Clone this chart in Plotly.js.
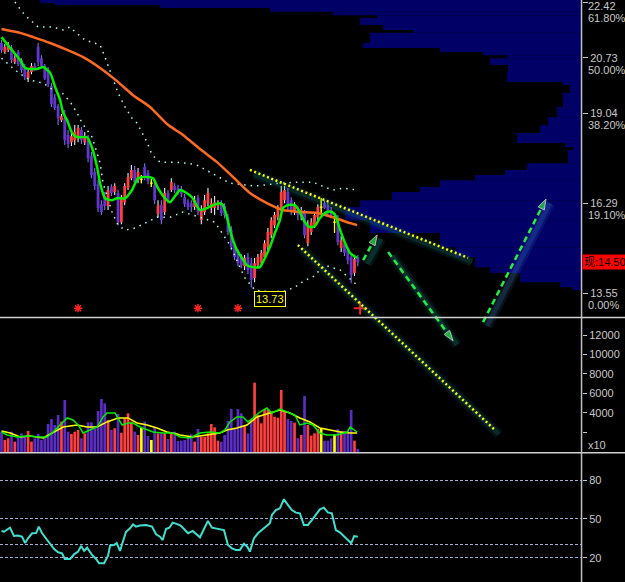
<!DOCTYPE html>
<html><head><meta charset="utf-8">
<script src="https://cdn.plot.ly/plotly-3.0.1.min.js"></script>
<style>html,body{margin:0;padding:0;background:#000;overflow:hidden}#chart{width:625px;height:582px}</style>
</head><body><div id="chart"></div>
<script>
// ---------- DATA ----------
const openP = [21.18,20.91,20.97,21.03,20.60,20.91,20.66,20.45,20.11,20.30,
20.48,21.06,20.72,20.48,20.36,19.87,19.53,19.26,18.83,18.89,
18.38,18.16,18.22,18.28,18.53,18.16,18.28,17.73,17.25,16.88,
16.27,16.52,16.21,16.79,16.64,16.61,15.72,16.33,16.76,17.06,
17.31,17.00,17.03,17.40,17.22,16.91,16.85,15.97,16.24,16.03,
16.61,16.70,16.82,16.76,16.73,16.48,16.33,16.30,16.18,16.45,
15.78,16.03,16.30,16.15,16.15,16.21,16.30,16.21,15.87,15.48,
15.02,14.81,14.66,14.38,14.66,14.47,14.02,14.41,14.50,14.66,
14.96,15.33,15.63,15.87,16.15,16.39,16.64,16.39,16.03,16.09,
15.91,16.00,15.08,15.42,15.63,15.87,16.18,16.30,16.24,16.09,
15.72,15.84,14.93,15.08,14.87,14.66,14.17,14.66];
const highP = [21.27,21.15,21.21,21.12,20.81,20.97,20.72,20.54,20.42,20.57,
20.57,21.18,20.81,20.54,20.45,19.96,19.63,19.32,19.02,19.14,
18.53,18.44,18.68,18.68,18.62,18.47,18.38,17.86,17.37,17.00,
16.39,16.64,16.82,16.88,16.91,16.70,16.55,16.91,17.22,17.46,
17.43,17.37,17.16,17.52,17.31,17.03,16.94,16.39,16.39,16.76,
16.70,17.06,16.91,16.85,16.82,16.58,16.42,16.39,16.52,16.55,
16.24,16.55,16.76,16.45,16.52,16.39,16.39,16.30,15.97,15.60,
15.11,14.90,14.75,14.72,14.78,14.63,14.63,14.75,14.87,15.17,
15.54,15.87,16.03,16.24,16.82,16.82,16.76,16.48,16.33,16.21,
16.18,16.09,15.78,15.84,16.03,16.27,16.45,16.39,16.33,16.18,
16.00,15.94,15.30,15.17,14.96,14.78,14.69,14.72];
const lowP = [20.88,20.85,20.91,20.57,20.54,20.48,20.27,20.05,19.99,20.23,
20.33,20.48,20.42,20.05,19.84,19.23,19.14,18.68,18.77,18.07,
17.98,18.04,18.07,18.16,18.10,18.07,17.55,17.06,16.70,16.03,
15.94,16.09,16.09,16.52,16.55,15.63,15.66,16.24,16.70,17.00,
16.85,16.91,16.91,17.00,16.88,16.79,16.27,15.87,15.66,15.94,
16.30,16.64,16.61,16.55,16.48,16.18,16.09,16.03,16.09,15.94,
15.66,15.94,16.21,16.00,15.94,16.09,15.91,15.84,15.33,14.87,
14.56,14.38,14.32,14.26,14.14,13.73,13.89,14.32,14.41,14.56,
14.87,15.23,15.54,15.78,16.06,16.30,16.09,15.94,15.94,15.78,
15.78,15.23,14.99,15.33,15.54,15.78,15.94,16.12,15.94,15.84,
15.39,15.02,14.81,14.69,14.44,13.86,14.08,14.38];
const closeP = [20.97,21.06,21.12,20.66,20.72,20.54,20.36,20.14,20.30,20.48,
20.39,20.60,20.48,20.11,19.93,19.32,19.20,18.89,18.95,18.22,
18.10,18.34,18.47,18.59,18.22,18.34,17.67,17.16,16.82,16.15,
16.03,16.21,16.70,16.61,16.82,15.72,16.45,16.82,17.10,17.31,
16.94,17.25,17.03,17.13,16.97,16.91,16.39,16.24,15.78,16.61,
16.39,16.94,16.70,16.64,16.58,16.27,16.18,16.18,16.39,16.03,
16.09,16.39,16.61,16.30,16.33,16.30,16.00,15.94,15.42,14.96,
14.66,14.47,14.41,14.63,14.26,13.96,14.47,14.66,14.78,15.08,
15.42,15.78,15.94,16.15,16.64,16.70,16.24,16.03,16.24,15.94,
16.09,15.33,15.63,15.72,15.94,16.18,16.18,16.15,16.03,15.94,
15.72,15.11,15.17,14.78,14.56,14.10,14.60,14.50];
const volume = [2080,1230,1400,2080,1060,1640,1910,1640,2150,1060,
1400,1850,1230,1570,2870,3380,2770,3790,3110,5330,
2080,1850,2080,2260,1400,1910,3040,3040,2430,4200,
5440,4990,3280,2260,2430,3900,1980,3450,3970,3110,
2080,1740,2500,3110,1640,1230,2600,1910,1910,1910,
1330,1910,2080,1130,1160,1230,1570,1810,1060,2360,
1570,1570,1910,2870,2530,1160,1060,1740,3180,4410,
2430,4410,3970,2700,1910,3280,7110,3790,2940,4370,
4370,4140,3620,3520,6360,4140,3380,3180,3010,1400,
1740,5740,2770,1675,1910,2360,2430,1160,1160,1400,
1810,2360,2150,2150,2150,4310,1160,310];

const maShortX = [0,2.6,5.6,7.1,10.7,12.5,14.6,16.1,17.6,18.5,19.7,21.2,22.7,25.7,27.2,28.7,29.6,31.1,33.2,34.7,37.1,39.2,41,43.7,45.5,47,49.1,50.6,53.6,55.1,57.2,59.6,61.7,63.5,65.6,66.5,67.7,69.2,70.7,72.2,73.7,75.5,77.6,79.1,80.6,82.1,83.6,84.5,86,88.1,89.6,91.1,92.6,94.1,95.6,97.7,99.2,100.2,101.7,103.2,104.7,106.8];
const maShortY = [21.36,21.03,20.66,20.42,20.39,20.45,20.27,19.84,19.44,19.05,18.83,18.44,18.31,18.31,17.98,17.40,16.91,16.45,16.39,16.45,16.45,16.70,17.06,17.10,17.06,16.76,16.45,16.33,16.70,16.64,16.48,16.09,16.15,16.24,16.30,16.24,15.87,15.27,14.87,14.63,14.41,14.35,14.35,14.63,14.96,15.39,15.78,16.15,16.24,16.24,16.03,15.72,15.57,15.60,15.84,16.03,16.03,15.94,15.48,15.08,14.78,14.63];
const maLongX = [0,5.6,9.5,14.6,19.7,24.5,29.6,34.7,39.5,44.6,49.7,54.5,59.6,64.7,69.5,74.6,79.7,84.5,89.6,94.7,99.6,104.7,106.8];
const maLongY = [21.61,21.49,21.36,21.18,20.97,20.75,20.42,20.02,19.59,19.23,18.71,18.38,17.95,17.55,17.10,16.61,16.30,16.09,16.03,16.00,15.87,15.69,15.63];
const bollUpX = [4.05,6.2,8.0,9.5,11,15.2,18.5,20.6,22.1,25.1,28.1,29.6,31.1,33.2,35,37.1,39.2,40.7,42.2,43.7,45.2,47.6,51.5,55.7,58.7,62.6,68.6,76.1,83.6,89.6,93.5,97.1,99.5,102.6,106.8];
const bollUpY = [22.43,22.13,21.94,21.79,21.67,21.67,21.58,21.67,21.52,21.27,21.18,21.12,20.75,20.14,19.66,19.23,18.89,18.74,18.44,18.16,17.77,17.55,17.55,17.52,17.46,17.25,16.91,16.82,16.91,16.94,16.94,16.79,16.70,16.76,16.70];
const bollLoX = [0,1.65,4.05,6.2,8.6,12.5,15.5,18.2,20.6,22.7,24.2,25.7,27.2,28.7,29.6,30.5,31.7,33.2,35,37.1,40.1,43.7,46.7,50.6,54.5,59.6,64.1,68.6,73.1,76.1,80.6,85.1,88.1,91.1,93.5,97.1,101.7,106.8];
const bollLoY = [20.72,20.57,20.36,20.20,20.05,19.96,19.75,19.66,19.39,19.05,18.74,18.53,18.31,17.83,17.52,16.91,16.49,16.03,15.63,15.48,15.54,15.72,15.87,15.87,16.03,15.87,15.72,15.02,14.02,13.65,13.59,13.62,13.74,13.95,14.05,14.41,14.26,13.80];

const volMaAX = [0,2.6,5.6,8.6,12.5,14.6,18.5,22.7,25.7,28.7,31.7,35,38,40.7,43.7,46.7,49.7,52.7,53.6,57.5,61.7,65.6,67.7,70.7,73.7,76.7,80.6,83.6,86.6,89.6,92.6,95.6,98.7,101.7,104.7,106.8];
const volMaAY = [2150,1950,1540,1640,1440,1850,2560,2770,2560,2560,3080,3490,3490,2970,2770,2460,2050,1850,1740,1540,1740,1950,2260,2460,2770,3590,4000,4310,4000,3490,3080,2460,2260,2050,1950,1950];
const volMaBX = [0,1.7,4.7,7.7,11.6,13.7,15.5,18.2,19.7,21.5,23,24.5,26.6,28.7,30.5,31.7,34.1,36.2,38,39.5,41.6,43.7,45.5,48.5,51.5,53.6,56.6,59.6,62.6,65.6,67.1,68.6,70.7,72.5,74,75.5,77.6,79.7,81.2,83.6,85.7,88.1,89.6,91.7,93.5,95.6,97.7,100.8,103.8,104.7,106.8];
const volMaBY = [2050,1740,1540,1640,1540,1540,2050,2970,3490,3280,2770,1950,2260,2560,3590,4000,4000,2770,2970,2970,2560,2260,2050,1950,1950,1540,1440,1950,2050,1950,2260,3080,3590,3590,3080,3490,4100,4510,4000,4410,4100,3790,2770,2970,2770,1950,1740,1740,2050,2560,2050];

const rsiX = [0,0.75,1.95,2.55,3.75,4.95,6.15,7.1,7.95,9.2,10.4,11.2,12.2,13.4,14.6,15.8,17,18.2,19,20.6,21.8,23,23.9,24.8,25.7,27.2,28.4,29.3,30.8,32,32.6,33.8,34.6,35.6,36.2,37.4,38.6,39.5,40.4,41.6,43.4,45.2,46.4,47.6,48.4,49.4,50.4,51.4,52.6,53.8,54.8,56,57.4,58.4,59.6,60.8,62,63.2,64.4,65.6,66.8,68,69.2,70.4,71.6,72.8,73.8,74.6,75.8,77,78.2,79.4,80.6,81.2,82.4,83.6,84.8,86,87.2,88.4,89.6,90.8,92,93.2,94.4,95.6,96.8,98,99.2,100.4,101.6,102.9,104,105,105.9,107];
const rsiY = [40.8,40.2,42.3,43.3,36.9,37.2,36.4,31.5,35.1,39.0,39.2,44.1,39.0,35.1,31.3,26.9,24.4,23.6,19.2,19.2,22.8,24.9,29.2,25.4,27.9,22.3,19.2,15.9,15.9,21.8,29.5,30.0,31.5,25.4,30.5,40.2,42.8,45.9,44.1,44.9,45.4,44.1,38.2,36.4,33.8,42.3,43.3,47.2,46.2,44.9,42.3,39.0,40.8,38.2,35.9,42.3,48.5,43.3,42.8,42.3,41.5,30.0,27.4,26.2,26.2,31.0,28.7,24.9,35.1,39.0,41.5,44.1,46.7,53.1,56.9,58.2,65.2,60.8,56.9,54.9,54.4,45.4,45.4,49.2,53.1,57.4,58.7,55.1,54.4,41.5,39.7,36.4,33.8,31.3,36.9,36.4];

// volume-at-price profile (price bin edges, relative volume)
const profEdges = [22.49,22.40,22.34,22.25,22.13,22.03,21.94,21.73,21.58,21.49,21.18,21.03,20.91,20.81,20.72,20.51,20.30,19.99,19.90,19.66,19.23,18.92,18.68,18.44,18.13,18.01,17.92,17.52,17.31,17.16,17.00,16.79,16.64,16.39,16.18,15.78,15.39,14.96,14.66,14.35,14.17,13.89,13.74,13.65];
const profVol = [542,527,422,312,249,205,222,199,169,212,219,142,99,75,92,74,75,19,12,19,25,34,42,65,17,9,14,55,77,107,142,162,190,222,237,212,142,127,107,92,62,22,10];

// drawn trend lines / arrows (bar index, price)
const trendUpX = [74.6,140.1], trendUpY = [17.31,14.63];
const trendLoX = [89.0,148.2], trendLoY = [15.02,9.38];
const arrow1X = [108.6,112.8], arrow1Y = [14.56,15.33];
const arrow2X = [116.1,135.6], arrow2Y = [14.81,12.10];
const arrow3X = [144.6,163.5], arrow3Y = [12.67,16.42];

const signalX = [23,59,71], signalY = [13.10,13.10,13.10];
const crossX = [107.7], crossY = [13.10];
const lowLabel = '13.73', lowLabelX = 80.5, lowLabelY = 13.39;
const lastPrice = 14.50;

const priceTicks = [22.42,20.73,19.04,16.29,13.55];
const pctLabels = ['61.80%','50.00%','38.20%','19.10%','0.00%'];
const volTicks = [2000,4000,6000,8000,10000,12000];
const volTickText = ['','4000','6000','8000','10000','12000'];
const rsiTicks = [20,50,80];
const rsiMinor = [30];

// ---------- STYLE ----------
const PX_PER_BAR = 3.33, PX_PER_PRICE = 32.8;
const X_RIGHT = 174.32;
const C = {up:'#FF3F3F', down:'#6236CC', flat:'#FFFF00',
           wickUp:'#F4F4F4', wickDown:'#8374FF',
           volUp:'#FF3F3F', volDown:'#5C2DC4',
           prof:'#000066', axis:'#C8C8C8', grid:'#9FB0D8'};
const FONT = 'Liberation Sans, Arial, sans-serif';

const idx = openP.map((_, i) => i);
const kind = idx.map(i => closeP[i] > openP[i] ? 'up' : (closeP[i] < openP[i] ? 'down' : 'flat'));
const sel = k => idx.filter(i => kind[i] === k);

function candles(k, color, lw) {
  const s = sel(k);
  return {type:'candlestick', xaxis:'x', yaxis:'y', x:s,
    open:s.map(i=>openP[i]), high:s.map(i=>highP[i]), low:s.map(i=>lowP[i]), close:s.map(i=>closeP[i]),
    increasing:{fillcolor:color, line:{color:color, width:lw}},
    decreasing:{fillcolor:color, line:{color:color, width:lw}},
    whiskerwidth:0, hoverinfo:'skip'};
}

const profY = profVol.map((_, k) => (profEdges[k] + profEdges[k+1]) / 2);
const profW = profVol.map((_, k) => profEdges[k] - profEdges[k+1]);

const GDX = 4 / PX_PER_BAR, GDY = -4 / PX_PER_PRICE;
function glow(xs, ys, col) {
  const gx = xs.map(v => v + GDX), gy = ys.map(v => v + GDY);
  return [
    {type:'scatter', mode:'lines', xaxis:'x', yaxis:'y4', x:gx, y:gy,
     line:{color:col.replace('A', '0.12'), width:10}, hoverinfo:'skip'},
    {type:'scatter', mode:'lines', xaxis:'x', yaxis:'y4', x:gx, y:gy,
     line:{color:col.replace('A', '0.2'), width:5}, hoverinfo:'skip'}
  ];
}
function arrow(xs, ys) {
  return {type:'scatter', mode:'lines+markers', xaxis:'x', yaxis:'y4', x:xs, y:ys,
    line:{color:'#22EE44', width:2.5, dash:'6px,4px'},
    marker:{symbol:'arrow', size:[0,11], color:'#22EE44', angleref:'previous'}, hoverinfo:'skip'};
}
function dotted(xs, ys) {
  return {type:'scatter', mode:'lines', xaxis:'x', yaxis:'y4', x:xs, y:ys,
    line:{color:'#FFFF00', width:2.5, dash:'2px,2.6px'}, hoverinfo:'skip'};
}

const traces = [
  {type:'bar', orientation:'h', xaxis:'x', yaxis:'y', y:profY, width:profW,
   base:X_RIGHT, x:profVol.map(v => -v / PX_PER_BAR),
   marker:{color:C.prof, line:{width:0}}, hoverinfo:'skip'},
  {type:'bar', xaxis:'x', yaxis:'y', x:idx, base:lowP, y:idx.map(i => highP[i] - lowP[i]),
   width:0.32, marker:{color:idx.map(i => kind[i]==='up' ? C.wickUp : (kind[i]==='down' ? C.wickDown : C.flat)), line:{width:0}},
   hoverinfo:'skip'},
  {type:'scatter', mode:'lines', x:bollUpX, y:bollUpY, line:{color:'#A8FFEE', width:1.5, dash:'1.5px,5px'}, hoverinfo:'skip'},
  {type:'scatter', mode:'lines', x:bollLoX, y:bollLoY, line:{color:'#A8FFEE', width:1.5, dash:'1.5px,5px'}, hoverinfo:'skip'},
  candles('up', C.up, 0),
  candles('down', C.down, 0),
  candles('flat', C.flat, 1.2),
  {type:'scatter', mode:'lines', x:maLongX, y:maLongY, line:{color:'#FF6A22', width:2.5, shape:'spline', smoothing:0.6}, hoverinfo:'skip'},
  {type:'scatter', mode:'lines', x:maShortX, y:maShortY, line:{color:'#00F000', width:2.5, shape:'spline', smoothing:0.6}, hoverinfo:'skip'},
  {type:'scatter', mode:'markers', x:signalX, y:signalY,
   marker:{symbol:'asterisk-open', size:7, color:'#FF2222', line:{color:'#FF2222', width:1.5}}, hoverinfo:'skip'},
  {type:'scatter', mode:'markers', x:crossX, y:crossY,
   marker:{symbol:'cross-thin-open', size:9, color:'#FF2222', line:{color:'#FF2222', width:2}}, hoverinfo:'skip'},
  {type:'bar', xaxis:'x', yaxis:'y2', x:idx, y:volume, width:0.8,
   marker:{color:idx.map(i => kind[i]==='up' ? C.volUp : (kind[i]==='down' ? C.volDown : C.flat)), line:{width:0}}, hoverinfo:'skip'},
  {type:'scatter', mode:'lines', xaxis:'x', yaxis:'y2', x:volMaAX, y:volMaAY, line:{color:'#FFFF00', width:1.5}, hoverinfo:'skip'},
  {type:'scatter', mode:'lines', xaxis:'x', yaxis:'y2', x:volMaBX, y:volMaBY, line:{color:'#00EE00', width:1.5}, hoverinfo:'skip'},
  {type:'scatter', mode:'lines', xaxis:'x', yaxis:'y3', x:rsiX, y:rsiY, line:{color:'#3FE0D0', width:2}, hoverinfo:'skip'}
].concat(
  glow(trendUpX, trendUpY, 'rgba(30,140,140,A)'),
  glow(trendLoX, trendLoY, 'rgba(30,140,140,A)'),
  glow(arrow1X, arrow1Y, 'rgba(30,160,150,A)'),
  glow(arrow2X, arrow2Y, 'rgba(30,160,150,A)'),
  glow(arrow3X, arrow3Y, 'rgba(70,140,210,A)'),
  [dotted(trendUpX, trendUpY), dotted(trendLoX, trendLoY),
   arrow(arrow1X, arrow1Y), arrow(arrow2X, arrow2Y), arrow(arrow3X, arrow3Y)]
);

const tickFont = {family:FONT, size:11, color:C.axis};
const baseY = {side:'right', showgrid:false, zeroline:false, showline:false, fixedrange:true,
  ticks:'outside', ticklen:5, tickwidth:1, tickcolor:C.axis, tickfont:tickFont, anchor:'x'};

// top label kept fully inside the picture: drawn as annotations nudged down a few px
const TOP_NUDGE = -4;
const annotations = [];
priceTicks.forEach((v, k) => {
  const nudge = k === 0 ? TOP_NUDGE : 0;
  if (k === 0) annotations.push({xref:'paper', yref:'y', x:1.0069, y:v, xanchor:'left', yanchor:'middle',
    yshift:nudge, text:v.toFixed(2), showarrow:false, font:tickFont});
  annotations.push({xref:'paper', yref:'y', x:1.0069, y:v, xanchor:'left', yanchor:'middle',
    yshift:-12 + nudge, text:pctLabels[k], showarrow:false, font:tickFont});
});
annotations.push({xref:'paper', yref:'y2', x:1.0069, y:720, xanchor:'left', yanchor:'middle', text:'x10', showarrow:false, font:tickFont});
annotations.push({xref:'x', yref:'y', x:lowLabelX, y:lowLabelY, text:lowLabel, showarrow:false,
  font:{family:FONT, size:11, color:'#FFFF00'}, bordercolor:'#FFFF00', borderwidth:1, borderpad:1, bgcolor:'#000'});
annotations.push({xref:'paper', yref:'y', x:1.0005, y:lastPrice, xanchor:'left', yanchor:'middle',
  text:'现:' + lastPrice.toFixed(2), showarrow:false, bgcolor:'#FF0000', borderpad:1,
  font:{family:'Liberation Sans, Noto Sans CJK SC, sans-serif', size:11, color:'#000'}});

const layout = {
  width:625, height:582, margin:{l:0, r:43, t:0, b:0, pad:0},
  paper_bgcolor:'#000', plot_bgcolor:'rgba(0,0,0,0)',
  showlegend:false, hovermode:false, barmode:'overlay', boxgap:0.15, boxgroupgap:0,
  xaxis:{range:[-0.45, X_RIGHT], visible:false, fixedrange:true, rangeslider:{visible:false}},
  yaxis:Object.assign({}, baseY, {domain:[0.4553,1], range:[12.83,22.4915],
    tickvals:priceTicks, ticktext:priceTicks.map((v, k) => k === 0 ? '' : v.toFixed(2))}),
  yaxis2:Object.assign({}, baseY, {domain:[0.2234,0.4536], range:[0,13744],
    tickvals:volTicks, ticktext:volTickText, ticklen:4}),
  yaxis3:Object.assign({}, baseY, {domain:[0,0.2199], range:[1.5,100],
    tickvals:rsiTicks, ticktext:rsiTicks.map(String), ticklen:4,
    showgrid:true, gridcolor:C.grid, gridwidth:1, griddash:'3px,2px',
    minor:{tickvals:rsiMinor, showgrid:true, gridcolor:C.grid, gridwidth:1, griddash:'3px,2px', ticks:''}}),
  yaxis4:{domain:[0,1], range:[4.747,22.4915], visible:false, fixedrange:true, anchor:'x'},
  shapes:[
    {type:'line', xref:'paper', yref:'paper', x0:0, x1:1.074, y0:0.4546, y1:0.4546, line:{color:'#D0D0D0', width:1.5}},
    {type:'line', xref:'paper', yref:'paper', x0:0, x1:1.074, y0:0.2220, y1:0.2220, line:{color:'#D0D0D0', width:1.5}},
    {type:'line', xref:'paper', yref:'paper', x0:0.9992, x1:0.9992, y0:0, y1:1, line:{color:'#C0C0C0', width:1.5}}
  ],
  annotations:annotations
};

Plotly.newPlot('chart', traces, layout, {staticPlot:true, displayModeBar:false});
</script>
</body></html>
